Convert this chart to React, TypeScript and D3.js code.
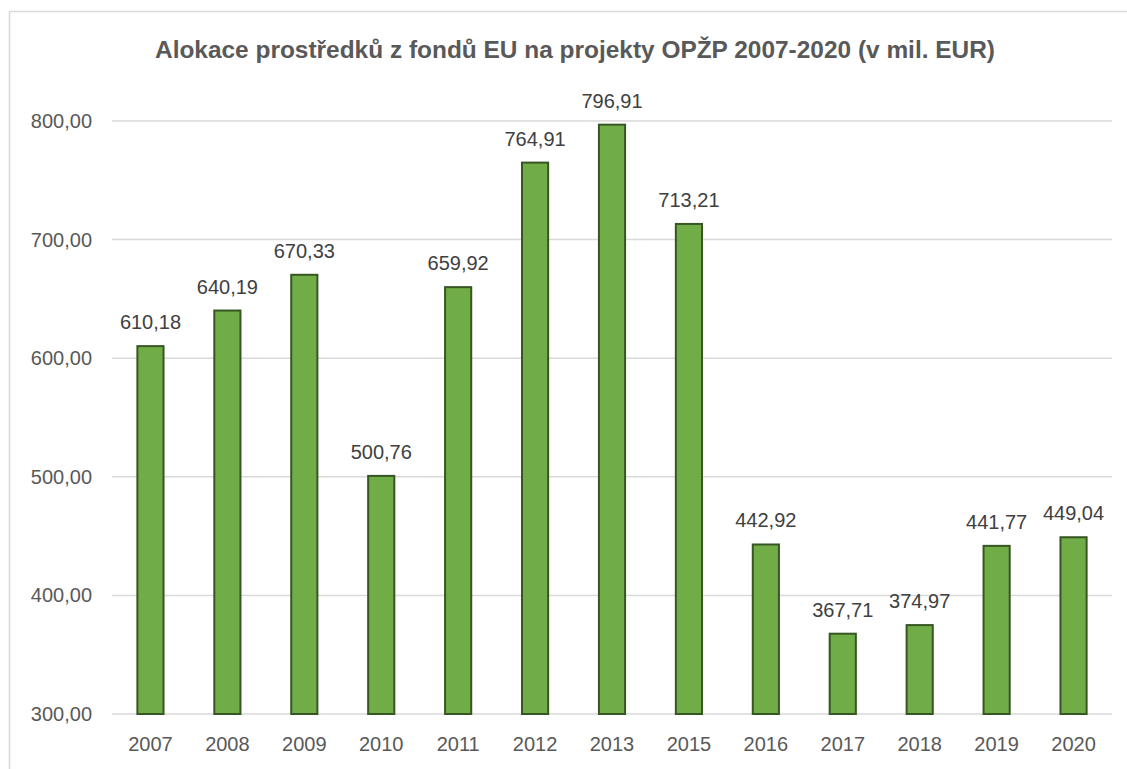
import { useEffect, useRef } from 'react';
import * as d3 from 'd3';

const years = ['2007', '2008', '2009', '2010', '2011', '2012', '2013', '2015', '2016', '2017', '2018', '2019', '2020'];
const values = [610.18, 640.19, 670.33, 500.76, 659.92, 764.91, 796.91, 713.21, 442.92, 367.71, 374.97, 441.77, 449.04];
const yTicks = [300, 400, 500, 600, 700, 800];
const title = 'Alokace prostředků z fondů EU na projekty OPŽP 2007-2020 (v mil. EUR)';

const fmt = (v: number) => v.toFixed(2).replace('.', ',');

const App = () => {
  const svgRef = useRef<SVGSVGElement>(null);

  useEffect(() => {
    const W = 1127;
    const H = 769;
    const left = 112, right = 1112, top = 121, bottom = 714;

    const svg = d3.select(svgRef.current);
    svg.selectAll('*').remove();
    svg.attr('width', W).attr('height', H);

    svg.append('rect')
      .attr('x', 9.5).attr('y', 11.5)
      .attr('width', 1300).attr('height', 900)
      .attr('fill', '#fff')
      .attr('stroke', '#D9D9D9')
      .attr('stroke-width', 1.5);

    const x = d3.scaleBand<string>()
      .domain(years)
      .range([left, right])
      .paddingInner(0.66)
      .paddingOuter(0.33);

    const y = d3.scaleLinear()
      .domain([300, 800])
      .range([bottom, top]);

    const font = '"Liberation Sans", Arial, sans-serif';

    // gridlines
    svg.append('g')
      .selectAll('line')
      .data(yTicks)
      .join('line')
      .attr('x1', left).attr('x2', right)
      .attr('y1', d => y(d)).attr('y2', d => y(d))
      .attr('stroke', '#D9D9D9')
      .attr('stroke-width', 1.5);

    // y labels
    svg.append('g')
      .selectAll('text')
      .data(yTicks)
      .join('text')
      .attr('x', 92)
      .attr('y', d => y(d))
      .attr('dy', '0.35em')
      .attr('text-anchor', 'end')
      .attr('font-family', font)
      .attr('font-size', 20)
      .attr('fill', '#595959')
      .text(d => fmt(d));

    // bars
    svg.append('g')
      .selectAll('rect')
      .data(values)
      .join('rect')
      .attr('x', (_, i) => x(years[i])!)
      .attr('y', d => y(d))
      .attr('width', x.bandwidth())
      .attr('height', d => bottom - y(d))
      .attr('fill', '#70AD47')
      .attr('stroke', '#375623')
      .attr('stroke-width', 2);

    // data labels
    svg.append('g')
      .selectAll('text')
      .data(values)
      .join('text')
      .attr('x', (_, i) => x(years[i])! + x.bandwidth() / 2)
      .attr('y', d => y(d) - 17)
      .attr('text-anchor', 'middle')
      .attr('font-family', font)
      .attr('font-size', 20)
      .attr('fill', '#404040')
      .text(d => fmt(d));

    // x labels
    svg.append('g')
      .selectAll('text')
      .data(years)
      .join('text')
      .attr('x', d => x(d)! + x.bandwidth() / 2)
      .attr('y', 751)
      .attr('text-anchor', 'middle')
      .attr('font-family', font)
      .attr('font-size', 20)
      .attr('fill', '#595959')
      .text(d => d);

    // title
    svg.append('text')
      .attr('x', 575)
      .attr('y', 58)
      .attr('text-anchor', 'middle')
      .attr('font-family', font)
      .attr('font-weight', 'bold')
      .attr('font-size', 23)
      .attr('fill', '#595959')
      .attr('textLength', 840)
      .attr('lengthAdjust', 'spacingAndGlyphs')
      .text(title);
  }, []);

  return <svg ref={svgRef} style={{ position: 'absolute', left: 0, top: 0 }}></svg>;
};

export default App;
